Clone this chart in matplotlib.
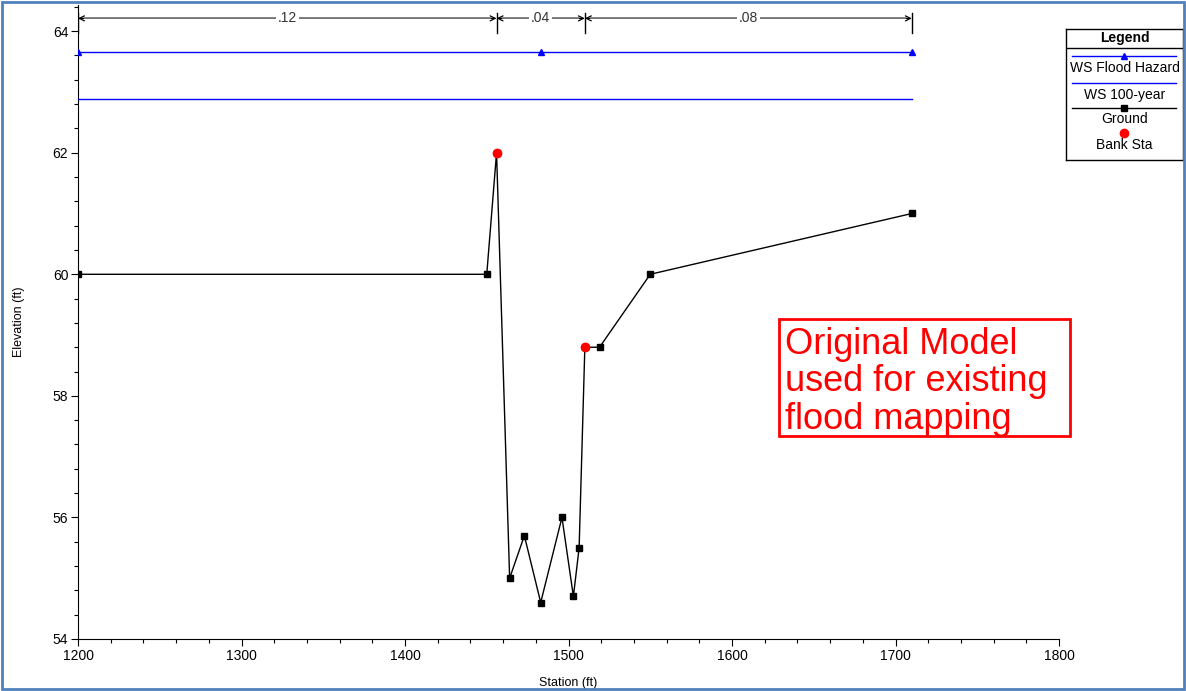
import matplotlib.pyplot as plt
from matplotlib.patches import Rectangle
from matplotlib.ticker import MultipleLocator

plt.rcParams['font.family'] = ['Liberation Sans', 'DejaVu Sans']

# ground profile
station = [1200, 1450, 1456, 1464, 1473, 1483, 1496, 1503, 1506.5, 1510, 1519, 1550, 1710]
elev = [60.0, 60.0, 62.0, 55.0, 55.7, 54.6, 56.0, 54.7, 55.5, 58.8, 58.8, 60.0, 61.0]

# bank stations
bank_sta = [1456, 1510]
bank_elev = [62.0, 58.8]

# water surfaces
ws_sta = [1200, 1483, 1710]
ws_hazard = [63.65, 63.65, 63.65]
ws_100 = [62.88, 62.88, 62.88]

# manning's n breaks
n_breaks = [1200, 1456, 1510, 1710]
n_values = ['.12', '.04', '.08']

fig = plt.figure(figsize=(11.86, 6.91), dpi=100)
ax = fig.add_axes([78 / 1186, 52 / 691, 981 / 1186, 634 / 691])

ax.plot(ws_sta, ws_hazard, color='blue', lw=1, marker='^', markersize=5, zorder=3)
ax.plot(ws_sta, ws_100, color='blue', lw=1, zorder=3)
ax.plot(station, elev, color='black', lw=1, marker='s', markersize=4.5, zorder=4)
ax.plot(bank_sta, bank_elev, 'o', color='red', markersize=6, zorder=5)

# n value arrows
y_arr = 64.21
for i in range(len(n_values)):
    x0, x1 = n_breaks[i], n_breaks[i + 1]
    ax.annotate('', xy=(x0, y_arr), xytext=(x1, y_arr),
                arrowprops=dict(arrowstyle='<->', color='black', lw=0.9,
                                shrinkA=0, shrinkB=0, mutation_scale=9))
    ax.plot([x0 + 4, x1 - 4], [y_arr, y_arr], color='gray', lw=1.3, zorder=3)
    ax.text((x0 + x1) / 2, y_arr, n_values[i], ha='center', va='center',
            fontsize=10, color='#333333',
            bbox=dict(facecolor='white', edgecolor='none', pad=1.5), zorder=4)
for x in n_breaks:
    ax.plot([x, x], [63.97, 64.3], color='black', lw=1, zorder=3)

ax.set_xlim(1200, 1800)
ax.set_ylim(54, 64.43)
ax.xaxis.set_major_locator(MultipleLocator(100))
ax.xaxis.set_minor_locator(MultipleLocator(20))
ax.yaxis.set_major_locator(MultipleLocator(2))
ax.yaxis.set_minor_locator(MultipleLocator(0.4))
ax.tick_params(which='major', length=5, width=0.8, labelsize=10, pad=2)
ax.tick_params(which='minor', length=3, width=0.8)
ax.spines['top'].set_visible(False)
ax.spines['right'].set_visible(False)
ax.set_xlabel('Station (ft)', fontsize=9, labelpad=10)
ax.set_ylabel('Elevation (ft)', fontsize=9, labelpad=20)

# note box
ax.add_patch(Rectangle((1628.7, 57.34), 178, 1.92, fill=True, facecolor='white',
                       edgecolor='red', lw=2, clip_on=False, zorder=6))
ax.text(1632.5, 59.14, 'Original Model\nused for existing\nflood mapping',
        fontsize=26, color='red', ha='left', va='top', linespacing=1.1,
        zorder=7, clip_on=False)

# legend box
lg = fig.add_axes([1066 / 1186, (691 - 160) / 691, 117 / 1186, 131 / 691])
lg.set_xlim(0, 117)
lg.set_ylim(131, 0)
lg.set_xticks([])
lg.set_yticks([])
for s in lg.spines.values():
    s.set_linewidth(1)
lg.text(58.5, 9, 'Legend', ha='center', va='center', fontsize=10, fontweight='bold')
lg.plot([0, 117], [19, 19], color='black', lw=1)
lg.plot([6, 110], [27, 27], color='blue', lw=1)
lg.plot([58], [27], marker='^', color='blue', markersize=5)
lg.text(58.5, 39, 'WS Flood Hazard', ha='center', va='center', fontsize=10)
lg.plot([6, 110], [54, 54], color='blue', lw=1)
lg.text(58.5, 66, 'WS 100-year', ha='center', va='center', fontsize=10)
lg.plot([6, 110], [79, 79], color='black', lw=1)
lg.plot([58], [79], marker='s', color='black', markersize=4.5)
lg.text(58.5, 90, 'Ground', ha='center', va='center', fontsize=10)
lg.plot([58], [104], 'o', color='red', markersize=6)
lg.text(58.5, 116, 'Bank Sta', ha='center', va='center', fontsize=10)

# outer frame
fig.patches.append(Rectangle((0.002, 0.003), 0.996, 0.994, transform=fig.transFigure,
                             fill=False, edgecolor='#4f81bd', lw=2))

fig.savefig('out.png', dpi=100)
